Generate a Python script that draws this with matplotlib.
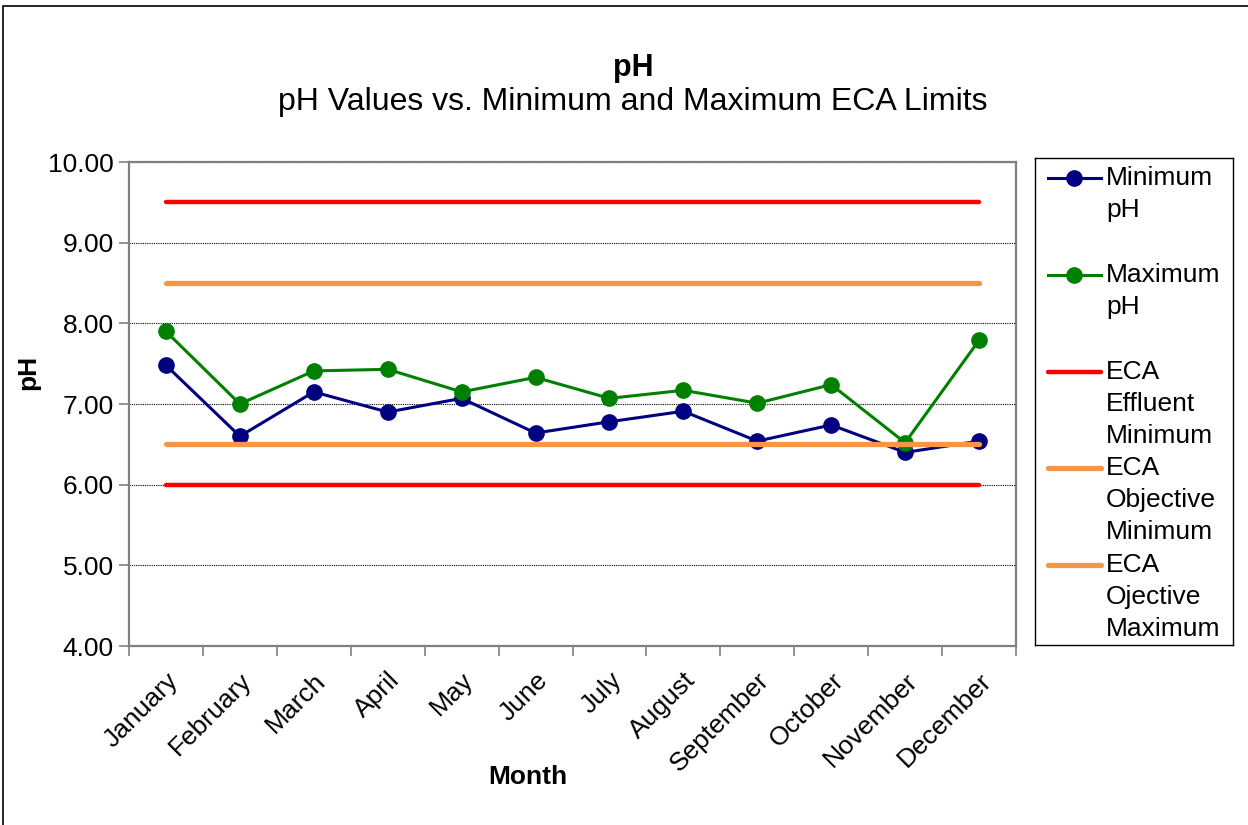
import numpy as np
import matplotlib.pyplot as plt
from matplotlib.patches import Rectangle

plt.rcParams['font.family'] = ['Liberation Sans', 'DejaVu Sans']

months = ['January', 'February', 'March', 'April', 'May', 'June', 'July',
          'August', 'September', 'October', 'November', 'December']
min_ph = [7.48, 6.60, 7.15, 6.90, 7.07, 6.64, 6.78, 6.91, 6.54, 6.74, 6.40, 6.54]
max_ph = [7.90, 7.00, 7.41, 7.43, 7.15, 7.33, 7.07, 7.17, 7.01, 7.24, 6.52, 7.79]
eca_effluent_min = 6.0
eca_effluent_max = 9.5
eca_objective_min = 6.5
eca_objective_max = 8.5

NAVY = '#000080'
GREEN = '#008000'
RED = '#ff0000'
ORANGE = '#f79646'


def main():
    fig = plt.figure(figsize=(12.48, 8.25), dpi=100)
    ax = fig.add_axes([129 / 1248, 1 - 646 / 825, 887 / 1248, 484 / 825])

    x = np.arange(len(months))

    ax.plot(x, [eca_effluent_max] * len(x), color=RED, lw=3.2,
            solid_capstyle='round', zorder=2)
    ax.plot(x, [eca_effluent_min] * len(x), color=RED, lw=3.2,
            solid_capstyle='round', zorder=2)
    ax.plot(x, [eca_objective_max] * len(x), color=ORANGE, lw=3.8,
            solid_capstyle='round', zorder=2)

    ax.plot(x, min_ph, color=NAVY, lw=2.2, marker='o', ms=11, zorder=3)
    ax.plot(x, max_ph, color=GREEN, lw=2.2, marker='o', ms=11, zorder=3)
    ax.plot(x, [eca_objective_min] * len(x), color=ORANGE, lw=3.8,
            solid_capstyle='round', zorder=4)

    ax.set_xlim(-0.5, len(months) - 0.5)
    ax.set_ylim(4, 10)
    ax.set_yticks(np.arange(4, 10.01, 1))
    ax.set_yticklabels([f'{v:.2f}' for v in np.arange(4, 10.01, 1)])
    ax.set_xticks(x)
    ax.set_xticklabels(months, rotation=45, ha='right', rotation_mode='anchor')
    ax.set_xticks(np.arange(-0.5, len(months)), minor=True)
    ax.tick_params(axis='x', which='major', length=0, labelsize=19, pad=16)
    ax.tick_params(axis='x', which='minor', length=7, width=1.2, color='#808080')
    ax.tick_params(axis='y', length=7, width=1.2, color='#808080', labelsize=19, pad=4)

    ax.grid(axis='y', color='black', linestyle=(0, (1, 1)), lw=0.8)
    for s in ax.spines.values():
        s.set_color('#808080')
        s.set_linewidth(1.6)

    ax.set_ylabel('pH', fontsize=19, fontweight='bold')
    ax.yaxis.set_label_coords(-0.100, 0.565)
    ax.set_xlabel('Month', fontsize=19, fontweight='bold')
    ax.xaxis.set_label_coords(0.45, -0.245)

    fig.text(633 / 1248, 1 - 68 / 825, 'pH', fontsize=22, fontweight='bold',
             ha='center', va='center')
    fig.text(633 / 1248, 1 - 102 / 825, 'pH Values vs. Minimum and Maximum ECA Limits',
             fontsize=23, ha='center', va='center')

    # legend box, drawn by hand so the handle sits on the first text line
    lax = fig.add_axes([1035 / 1248, 1 - 645 / 825, 198 / 1248, 487 / 825])
    lax.set_xlim(0, 198)
    lax.set_ylim(487, 0)
    lax.set_xticks([])
    lax.set_yticks([])
    for s in lax.spines.values():
        s.set_color('black')
        s.set_linewidth(1.0)

    entries = [
        (['Minimum', 'pH'], dict(color=NAVY, lw=2.2, marker='o', ms=11)),
        (['Maximum', 'pH'], dict(color=GREEN, lw=2.2, marker='o', ms=11)),
        (['ECA', 'Effluent', 'Minimum'], dict(color=RED, lw=3.2, solid_capstyle='round')),
        (['ECA', 'Objective', 'Minimum'], dict(color=ORANGE, lw=3.8, solid_capstyle='round')),
        (['ECA', 'Ojective', 'Maximum'], dict(color=ORANGE, lw=3.8, solid_capstyle='round')),
    ]
    for i, (lines, style) in enumerate(entries):
        y0 = 20 + i * 96.8
        lax.plot([13, 39, 66], [y0, y0, y0], markevery=[1], **style)
        for j, t in enumerate(lines):
            lax.text(71, y0 + j * 32, t, fontsize=19, va='center', ha='left')

    # outer border of the chart area
    fig.patches.append(Rectangle((3 / 1248, -0.05), 1.1, 1.05 - 6 / 825,
                                 transform=fig.transFigure, fill=False,
                                 edgecolor='black', lw=1.2))

    fig.savefig('out.png', dpi=100)


if __name__ == '__main__':
    main()
